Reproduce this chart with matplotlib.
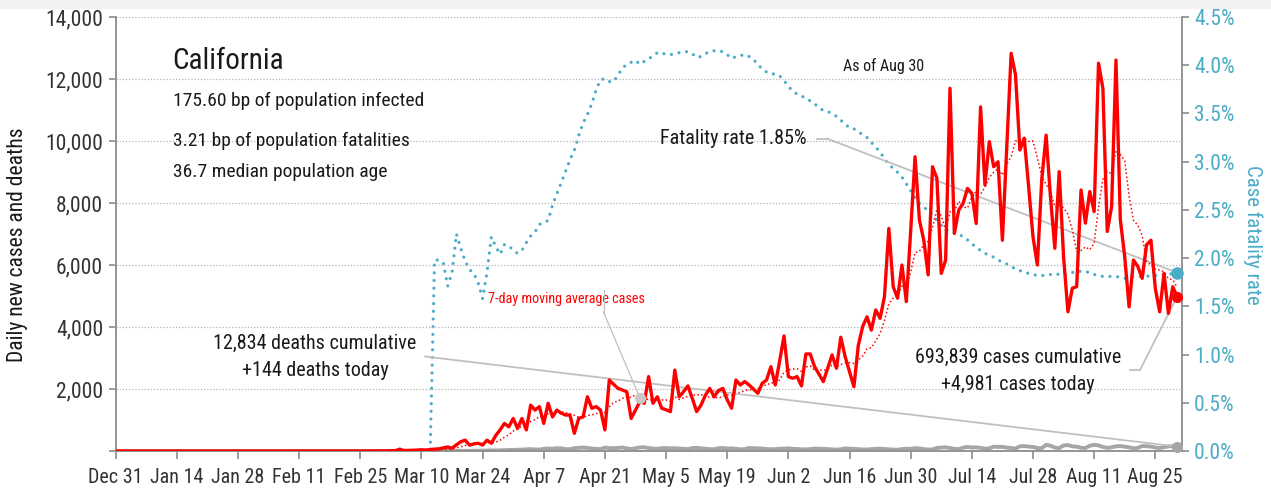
import numpy as np
import pandas as pd
import matplotlib
matplotlib.use('Agg')
import matplotlib.pyplot as plt
from matplotlib.lines import Line2D
from matplotlib.patches import Rectangle
from matplotlib.ticker import FuncFormatter

plt.rcParams['font.family'] = ['Roboto Condensed', 'DejaVu Sans']

# ---------------- data ----------------
start_date = '2019-12-31'
end_date = '2020-08-30'
first_data_date = '2020-03-01'
first_cfr_date = '2020-03-13'

cases_mar = [5, 3, 10, 8, 60, 15, 20, 25, 30, 40, 30, 50, 60, 70, 100, 130, 90, 200, 300, 350,
             190, 230, 250, 190, 350, 250, 500, 680, 890, 780, 1050]
cases_apr = [730, 1050, 680, 1480, 1320, 1430, 890, 1540, 1100, 1320, 1220, 1160, 1160, 570, 1050,
             1100, 1750, 1380, 1430, 1320, 680, 2290, 2150, 2020, 1970, 1910, 1050, 1320, 1590, 1540]
cases_may = [2400, 1540, 1750, 1380, 1330, 1270, 2610, 1750, 1910, 2100, 1700, 1270, 1480, 1800, 2020,
             1750, 1950, 2020, 1650, 1380, 2290, 2130, 2240, 2130, 2000, 1860, 2180, 2290, 2720, 2130, 2900]
cases_jun = [3710, 2400, 2345, 2400, 2100, 3130, 3130, 2720, 2480, 2240, 2670, 3100, 2670, 3670, 3040,
             2560, 2075, 3400, 4010, 4330, 3900, 4550, 4280, 4980, 7180, 5300, 4930, 6000, 4820, 7100]
cases_jul = [9490, 7450, 6800, 5680, 9170, 8800, 5730, 6160, 11700, 7020, 7770, 7990, 8470, 8310, 7340,
             11100, 8580, 9980, 9170, 9330, 6800, 9800, 12830, 12130, 9710, 10090, 8530, 6910, 6000, 8740, 10190]
cases_aug = [8200, 6540, 9010, 6270, 4490, 5250, 5300, 8420, 7350, 8370, 7720, 12510, 11700, 7080, 7880,
             12610, 7450, 6270, 4650, 6160, 5950, 5570, 6650, 6800, 5250, 4490, 5730, 4440, 5300, 4981]

deaths_mar = [0, 0, 0, 1, 0, 1, 0, 0, 1, 0, 1, 1, 0, 2, 1, 2, 3, 2, 5, 4, 6, 8, 10, 12, 15, 20, 18, 22,
              25, 30, 35]
deaths_apr = [40, 45, 55, 60, 50, 45, 70, 80, 75, 90, 85, 60, 55, 95, 100, 110, 100, 80, 70, 60, 110, 95,
              90, 100, 115, 85, 60, 90, 115, 120]
deaths_may = [95, 80, 70, 90, 95, 85, 90, 80, 70, 60, 95, 100, 85, 75, 60, 55, 90, 95, 80, 85, 70, 55, 60,
              100, 90, 85, 80, 65, 55, 60, 75]
deaths_jun = [80, 85, 70, 65, 55, 50, 60, 80, 75, 70, 65, 50, 45, 55, 85, 75, 70, 60, 50, 45, 60, 70, 75,
              65, 55, 45, 40, 60, 75, 70]
deaths_jul = [90, 85, 60, 45, 50, 100, 110, 120, 95, 70, 60, 110, 130, 115, 120, 100, 75, 85, 140, 130,
              135, 110, 95, 80, 150, 160, 140, 130, 95, 90, 200]
deaths_aug = [170, 110, 90, 180, 190, 150, 140, 105, 95, 170, 200, 180, 130, 100, 120, 150, 160, 140, 120,
              85, 100, 160, 155, 140, 110, 95, 120, 150, 160, 144]

# case fatality rate (%) from Mar 13 onward
cfr_pct = [1.98, 1.98, 1.95, 1.71, 1.85, 2.25, 2.10, 1.97, 1.88, 1.84, 1.74, 1.58, 1.85, 2.22, 2.12, 2.04,
           2.14, 2.13, 2.08, 2.05, 2.08, 2.16, 2.23, 2.27, 2.35, 2.37, 2.39, 2.55, 2.67, 2.78, 2.90, 3.02,
           3.12, 3.27, 3.40, 3.49, 3.60, 3.75, 3.85, 3.86, 3.83, 3.83, 3.90, 3.97, 4.01, 4.03, 4.05,
           4.01, 4.04, 4.07, 4.09, 4.13, 4.13, 4.11, 4.11, 4.12, 4.13, 4.14, 4.14, 4.12, 4.08, 4.09, 4.12,
           4.14, 4.15, 4.15, 4.14, 4.11, 4.07, 4.09, 4.10, 4.11, 4.09, 4.06, 4.01, 3.96, 3.93, 3.91, 3.91,
           3.89, 3.84, 3.78, 3.73, 3.70, 3.68, 3.66, 3.63, 3.60, 3.56, 3.53, 3.52, 3.50, 3.47, 3.43, 3.39,
           3.35, 3.34, 3.31, 3.28, 3.25, 3.20, 3.15, 3.10, 3.03, 2.97, 2.93, 2.89, 2.84, 2.77, 2.70, 2.63,
           2.57, 2.53, 2.49, 2.45, 2.39, 2.34, 2.30, 2.27, 2.26, 2.25, 2.22, 2.19, 2.15, 2.11, 2.08, 2.05,
           2.03, 2.01, 1.98, 1.96, 1.94, 1.91, 1.89, 1.87, 1.86, 1.84, 1.83, 1.82, 1.82, 1.82, 1.83, 1.84,
           1.83, 1.82, 1.83, 1.85, 1.87, 1.86, 1.86, 1.85, 1.83, 1.82, 1.81, 1.81, 1.81, 1.81, 1.80, 1.79,
           1.80, 1.81, 1.81, 1.81, 1.81, 1.82, 1.82, 1.82, 1.83, 1.83, 1.84, 1.85]

title = 'California'
info_lines = ['175.60 bp of population infected', '3.21 bp of population fatalities',
              '36.7 median population age']
as_of_text = 'As of Aug 30'
cfr_note = 'Fatality rate 1.85%'
deaths_note = ['12,834 deaths cumulative', '+144 deaths today']
cases_note = ['693,839 cases cumulative', '+4,981 cases today']
ma_note = '7-day moving average cases'

# ---------------- build series ----------------
dates = pd.date_range(start_date, end_date)
n_lead = int((pd.Timestamp(first_data_date) - pd.Timestamp(start_date)).days)
n_lead_cfr = int((pd.Timestamp(first_cfr_date) - pd.Timestamp(start_date)).days)
cases = pd.Series([0] * n_lead + cases_mar + cases_apr + cases_may + cases_jun + cases_jul + cases_aug,
                  index=dates, dtype=float)
deaths = pd.Series([0] * n_lead + deaths_mar + deaths_apr + deaths_may + deaths_jun + deaths_jul + deaths_aug,
                   index=dates, dtype=float)
cfr = pd.Series([0.0] * n_lead_cfr + cfr_pct, index=dates) / 100.0
ma = cases.rolling(7, min_periods=1).mean()

# ---------------- style ----------------
RED = '#ff0000'
BLUE = '#4bacc6'
DGRAY = '#a6a6a6'
LEAD = '#c0c0c0'
SPINE = '#8c8c8c'
TXT = '#1a1a1a'

W, H = 1271, 491
fig = plt.figure(figsize=(W / 100, H / 100), dpi=100)
fig.patches.append(Rectangle((0, 1 - 8 / H), 1, 8 / H, transform=fig.transFigure,
                             color='#f2f2f2', zorder=0))

def P(x, y):
    return (x / W, 1 - y / H)

L, R, T, B = 115.7, 1181.5, 17, 451
ax = fig.add_axes([L / W, 1 - B / H, (R - L) / W, (B - T) / H])
ax2 = ax.twinx()
ax.set_zorder(2)
ax2.set_zorder(1)
ax.patch.set_visible(False)

ax.plot(dates, deaths, color=DGRAY, lw=2.8, solid_joinstyle='round', zorder=2)
ax.plot(dates, ma, color=RED, lw=1.1, ls=(0, (1, 1.6)), zorder=3)
ax.plot(dates, cases, color=RED, lw=2.4, solid_joinstyle='round', zorder=4)
ax2.plot(dates, cfr, color=BLUE, lw=2.3, ls=(0, (0.01, 2.4)), dash_capstyle='round', zorder=3)

# end markers
ax.plot([dates[-1]], [cases.iloc[-1]], 'o', color=RED, ms=7, zorder=5, clip_on=False)
ax.plot([dates[-1]], [deaths.iloc[-1]], 'o', color=DGRAY, ms=7, zorder=5, clip_on=False)
ax2.plot([dates[-1]], [cfr.iloc[-1]], 'o', color=BLUE, ms=8, zorder=5, clip_on=False)

ax.set_xlim(pd.Timestamp(start_date), pd.Timestamp(end_date) + pd.Timedelta(days=1))
ax.set_ylim(0, 14000)
ax2.set_ylim(0, 0.045)

xt = pd.date_range(start_date, end_date, freq='14D')
ax.set_xticks(xt)
ax.set_xticklabels([f"{d:%b} {d.day}" for d in xt])
ax.set_yticks(np.arange(0, 14001, 2000))
ax.yaxis.set_major_formatter(FuncFormatter(lambda v, p: '' if v == 0 else f'{v:,.0f}'))
ax2.set_yticks(np.arange(0, 0.0451, 0.005))
ax2.yaxis.set_major_formatter(FuncFormatter(lambda v, p: f'{v * 100:.1f}%'))

ax.yaxis.grid(True, ls=(0, (1, 1.5)), color='#b5b5b5', lw=0.9)
ax.set_axisbelow(True)

for a in (ax, ax2):
    a.spines['top'].set_visible(False)
    for s in ('left', 'right', 'bottom'):
        a.spines[s].set_color(SPINE)
        a.spines[s].set_linewidth(1.3)
ax.spines['right'].set_visible(False)
ax2.spines['left'].set_visible(False)
ax2.spines['bottom'].set_visible(False)

ax.tick_params(axis='y', labelsize=15.5, labelcolor='#333333', color=SPINE, length=5, width=1.2, pad=4)
ax.tick_params(axis='x', labelsize=14.5, labelcolor='#333333', color=SPINE, length=6, width=1.2, pad=6)
ax2.tick_params(axis='y', labelsize=15.5, labelcolor=BLUE, color=SPINE, length=5, width=1.2, pad=4)

ax.set_ylabel('Daily new cases and deaths', fontsize=15.5, color=TXT)
ax.yaxis.set_label_coords(-0.082, 0.475)
ax2.set_ylabel('Case fatality rate', fontsize=15, color=BLUE, rotation=-90, va='center')
ax2.yaxis.set_label_coords(1.067, 0.498)

# ---------------- texts ----------------
fig.text(*P(172, 61), title, fontsize=21, color=TXT, va='center', ha='left')
for yy, s in zip([101, 141, 172], info_lines):
    fig.text(*P(173, yy), s, fontsize=14, color=TXT, va='center', ha='left')
fig.text(*P(843, 66), as_of_text, fontsize=11.5, color=TXT, va='center', ha='left')
fig.text(*P(660, 139), cfr_note, fontsize=14.5, color=TXT, va='center', ha='left')
fig.text(*P(315, 343), deaths_note[0], fontsize=14.5, color=TXT, va='center', ha='center')
fig.text(*P(315, 371), deaths_note[1], fontsize=14.5, color=TXT, va='center', ha='center')
fig.text(*P(1018, 357), cases_note[0], fontsize=14.5, color=TXT, va='center', ha='center')
fig.text(*P(1018, 385), cases_note[1], fontsize=14.5, color=TXT, va='center', ha='center')
fig.text(*P(488, 299), ma_note, fontsize=10.2, color=RED, va='center', ha='left')

# ---------------- leader lines ----------------
def seg(p1, p2, color=LEAD, lw=1.3, z=6):
    a, b = P(*p1), P(*p2)
    fig.add_artist(Line2D([a[0], b[0]], [a[1], b[1]], transform=fig.transFigure,
                          color=color, lw=lw, zorder=z))

lead = dict(arrowstyle='-', color=LEAD, lw=1.3, shrinkA=0, shrinkB=0)
seg((816.7, 138.5), (826.7, 138.5))
ax2.annotate('', xy=(dates[-1], cfr.iloc[-1]), xycoords='data', xytext=P(826.7, 138.5),
             textcoords='figure fraction', arrowprops=lead)
ax.annotate('', xy=(dates[-1], deaths.iloc[-1]), xycoords='data', xytext=P(425, 356.5),
            textcoords='figure fraction', arrowprops=lead)
seg((1130, 370), (1140, 370))
ax.annotate('', xy=(dates[-1], cases.iloc[-1]), xycoords='data', xytext=P(1140, 370),
            textcoords='figure fraction', arrowprops=lead)

ma_date = pd.Timestamp('2020-04-29')
seg((603.5, 290), (603.5, 312), lw=0.9)
ax.annotate('', xy=(ma_date, ma[ma_date]), xycoords='data', xytext=P(603.5, 312),
            textcoords='figure fraction', arrowprops=dict(arrowstyle='-', color=LEAD, lw=0.9,
                                                          shrinkA=0, shrinkB=0))
ax.plot([ma_date], [ma[ma_date]], 'o', color='#c8c8c8', ms=7, zorder=6)

fig.savefig('out.png', dpi=100)
